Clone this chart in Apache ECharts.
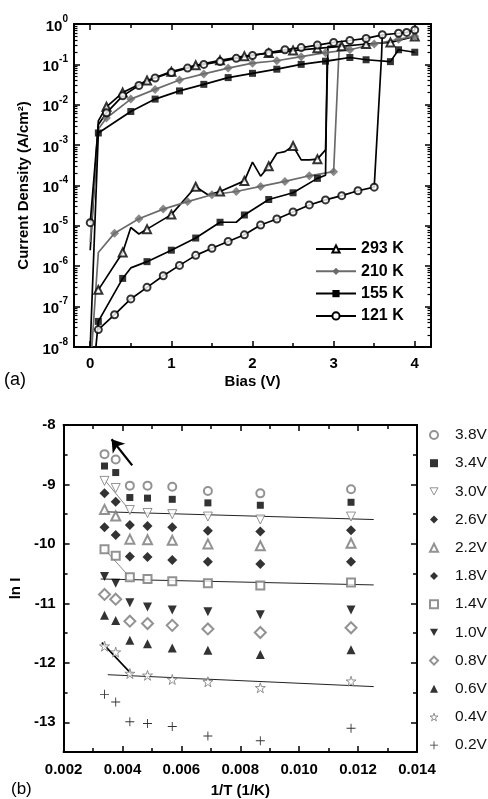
<!DOCTYPE html>
<html><head><meta charset="utf-8">
<script src="https://cdn.jsdelivr.net/npm/echarts@6/dist/echarts.min.js"></script>
<style>html,body{margin:0;padding:0;background:#fff}#c{width:488px;height:799px}</style>
</head><body><div id="c"></div>
<script>
// ---------- Panel (a): J-V curves, [bias V, current density A/cm^2] ----------
const tempNames = ['293 K', '210 K', '155 K', '121 K'];

const t293LowMarked = [[0.1,2.6e-7],[0.4,2.2e-6],[0.7,8.3e-6],[1.0,1.9e-5],[1.3,9.3e-5],[1.6,7.1e-5],[1.9,1.3e-4],[2.2,3.0e-4],[2.5,9.5e-4],[2.8,4.5e-4]];
const t293LowBetween = [[0.5,9.1e-6],[0.6,6.3e-6],[1.45,5.9e-5],[2.0,3.8e-4],[2.1,1.7e-4],[2.3,6.3e-4],[2.4,6.9e-4],[2.6,4.3e-4],[2.7,4.3e-4],[2.9,7.6e-4]];
const t293Jump = [2.93, 0.28];
const t293UpMarked = [[4.0,0.49],[3.7,0.35],[3.4,0.32],[3.1,0.28],[2.8,0.25],[2.5,0.22],[2.2,0.19],[1.9,0.16],[1.6,0.126],[1.3,0.095],[1.0,0.066],[0.7,0.040],[0.4,0.020],[0.2,0.0089]];
const t293UpBetween = [[0.1,0.004],[0.0,2.5e-6]];

const t210LowMarked = [[0.3,6.6e-6],[0.6,1.5e-5],[0.9,2.6e-5],[1.2,4.0e-5],[1.5,5.9e-5],[1.8,7.1e-5],[2.1,9.5e-5],[2.4,1.26e-4],[2.7,1.74e-4],[3.0,2.2e-4]];
const t210LowBetween = [[0.02,1.0e-8],[0.1,2.2e-6]];
const t210Jump = [3.07, 0.32];
const t210UpMarked = [[4.0,0.5],[3.8,0.42],[3.5,0.32],[3.2,0.23],[2.9,0.195],[2.6,0.155],[2.3,0.123],[2.0,0.107],[1.7,0.081],[1.4,0.058],[1.1,0.041],[0.8,0.024],[0.5,0.0138],[0.2,0.0047]];
const t210UpBetween = [[0.1,0.0025],[0.0,4.0e-6]];

const t155LowMarked = [[0.1,4.3e-8],[0.4,5.0e-7],[0.7,1.3e-6],[1.0,2.5e-6],[1.3,5.0e-6],[1.6,1.23e-5],[1.9,1.86e-5],[2.2,4.5e-5],[2.5,6.6e-5],[2.8,1.5e-4]];
const t155LowBetween = [[0.07,1.0e-8],[0.5,9.1e-7],[1.8,1.23e-5],[2.9,1.8e-4]];
const t155Jump = [2.92, 0.12];
const t155UpMarked = [[4.0,0.2],[3.8,0.23],[3.7,0.117],[3.4,0.13],[3.2,0.148],[2.9,0.12],[2.6,0.1],[2.3,0.076],[2.0,0.06],[1.7,0.047],[1.4,0.032],[1.1,0.022],[0.8,0.0138],[0.5,0.0068],[0.1,0.002]];
const t155UpBetween = [[0.0,1.0e-8]];

const t121LowMarked = [[0.1,2.7e-8],[0.3,6.3e-8],[0.5,1.55e-7],[0.7,3.0e-7],[0.9,5.8e-7],[1.1,1.05e-6],[1.3,1.86e-6],[1.5,2.8e-6],[1.7,4.1e-6],[1.9,6.0e-6],[2.1,1.05e-5],[2.3,1.48e-5],[2.5,2.2e-5],[2.7,3.3e-5],[2.9,4.4e-5],[3.1,5.6e-5],[3.3,7.4e-5],[3.5,9.1e-5]];
const t121LowBetween = [];
const t121Jump = [3.59, 0.155];
const t121UpMarked = [[4.0,0.71],[3.9,0.62],[3.8,0.59],[3.6,0.54],[3.4,0.44],[3.2,0.39],[3.0,0.35],[2.8,0.30],[2.6,0.26],[2.4,0.23],[2.2,0.195],[2.0,0.166],[1.8,0.141],[1.6,0.117],[1.4,0.1],[1.2,0.081],[1.0,0.063],[0.8,0.046],[0.6,0.030],[0.4,0.0166],[0.2,0.0063],[0.0,1.2e-5]];
const t121UpBetween = [[0.1,0.0032]];

const biasTicks = [0, 1, 2, 3, 4];
const biasMinorTicks = [0.5, 1.5, 2.5, 3.5];
const decadeTicks = [1e-8, 1e-7, 1e-6, 1e-5, 1e-4, 1e-3, 1e-2, 1e-1, 1];

// ---------- Panel (b): ln I vs 1/T ----------
const invT = [0.00339, 0.00377, 0.00425, 0.00485, 0.00569, 0.0069, 0.00868, 0.01176];
const voltNames = ['3.8V','3.4V','3.0V','2.6V','2.2V','1.8V','1.4V','1.0V','0.8V','0.6V','0.4V','0.2V'];
const lnI38 = [-8.49,-8.58,-9.02,-9.02,-9.04,-9.11,-9.15,-9.08];
const lnI34 = [-8.69,-8.80,-9.22,-9.23,-9.25,-9.31,-9.35,-9.30];
const lnI30 = [-8.94,-9.06,-9.43,-9.48,-9.50,-9.54,-9.59,-9.54];
const lnI26 = [-9.15,-9.29,-9.68,-9.70,-9.72,-9.78,-9.79,-9.77];
const lnI22 = [-9.42,-9.53,-9.92,-9.93,-9.94,-10.00,-10.03,-9.99];
const lnI18 = [-9.72,-9.85,-10.21,-10.22,-10.27,-10.30,-10.34,-10.30];
const lnI14 = [-10.09,-10.20,-10.56,-10.59,-10.63,-10.66,-10.70,-10.65];
const lnI10 = [-10.55,-10.66,-10.99,-11.06,-11.11,-11.14,-11.19,-11.11];
const lnI08 = [-10.85,-10.93,-11.30,-11.34,-11.37,-11.43,-11.49,-11.41];
const lnI06 = [-11.20,-11.29,-11.62,-11.68,-11.75,-11.79,-11.86,-11.78];
const lnI04 = [-11.72,-11.82,-12.18,-12.21,-12.28,-12.32,-12.42,-12.31];
const lnI02 = [-12.53,-12.66,-12.99,-13.02,-13.07,-13.23,-13.31,-13.10];

const fit30Steep = [[0.00339,-8.92],[0.00425,-9.44]];
const fit30Flat = [[0.00339,-9.46],[0.01253,-9.59]];
const fit14Steep = [[0.00339,-10.09],[0.00425,-10.56]];
const fit14Flat = [[0.00326,-10.59],[0.01253,-10.69]];
const fit04Steep = [[0.0033,-11.66],[0.00431,-12.19]];
const fit04Flat = [[0.0035,-12.20],[0.01253,-12.40]];
const arrowFrom = [0.00433, -8.68];
const arrowTo = [0.00363, -8.24];

const lnTicks = [-13, -12, -11, -10, -9, -8];
const lnMinorTicks = [-13.5, -12.5, -11.5, -10.5, -9.5, -8.5];

// ---------- build ----------
const FONT = 'Liberation Sans, Arial, Helvetica, sans-serif';
const minorDecadeTicks = [];
for (let e = -8; e < 0; e++) for (let m = 2; m <= 9; m++) minorDecadeTicks.push(m * Math.pow(10, e));

const chart = echarts.init(document.getElementById('c'), null, {renderer: 'canvas'});

const tickLbl = {fontFamily: FONT, fontSize: 15, fontWeight: 'bold', color: '#000'};
const nameStyle = {fontFamily: FONT, fontSize: 15, fontWeight: 'bold', color: '#000'};

function axisBase(extra) {
  return Object.assign({
    type: 'value', splitLine: {show: false}, axisPointer: {show: false},
    axisLine: {show: false, onZero: false, lineStyle: {color: '#000', width: 2}},
    axisTick: {show: true, inside: true, length: 6, lineStyle: {color: '#000', width: 1.5}},
    axisLabel: {show: false}
  }, extra);
}
function withLine(a, w) { a.axisLine = {show: true, onZero: false, lineStyle: {color: '#000', width: w}}; return a; }

const xAxes = [
  withLine(axisBase({gridIndex: 0, position: 'bottom', min: -0.2, max: 4.2,
    axisTick: {show: true, inside: true, length: 6, customValues: biasTicks, lineStyle: {color: '#000', width: 1.5}},
    axisLabel: Object.assign({show: true, customValues: biasTicks, margin: 9}, tickLbl),
    name: 'Bias (V)', nameLocation: 'middle', nameGap: 27, nameTextStyle: nameStyle}), 2),
  axisBase({gridIndex: 0, position: 'bottom', min: -0.2, max: 4.2,
    axisTick: {show: true, inside: true, length: 4, customValues: biasMinorTicks, lineStyle: {color: '#000', width: 1.5}}}),
  withLine(axisBase({gridIndex: 0, position: 'top', min: -0.2, max: 4.2,
    axisTick: {show: true, inside: true, length: 6, customValues: biasTicks, lineStyle: {color: '#000', width: 1.5}}}), 2),
  axisBase({gridIndex: 0, position: 'top', min: -0.2, max: 4.2,
    axisTick: {show: true, inside: true, length: 4, customValues: biasMinorTicks, lineStyle: {color: '#000', width: 1.5}}}),
  withLine(axisBase({gridIndex: 1, position: 'bottom', min: 0.002, max: 0.014, interval: 0.002,
    axisTick: {show: true, inside: true, length: 6, lineStyle: {color: '#000', width: 1.5}},
    minorTick: {show: true, splitNumber: 2, length: 4, lineStyle: {color: '#000', width: 1.5}},
    axisLabel: Object.assign({show: true, margin: 10, formatter: v => v.toFixed(3)}, tickLbl),
    name: '1/T (1/K)', nameLocation: 'middle', nameGap: 31, nameTextStyle: nameStyle}), 2),
  withLine(axisBase({gridIndex: 1, position: 'top', min: 0.002, max: 0.014, interval: 0.002,
    minorTick: {show: true, splitNumber: 2, length: 4, lineStyle: {color: '#000', width: 1.5}}}), 2)
];

const yAxes = [
  withLine(axisBase({gridIndex: 0, type: 'log', logBase: 10, position: 'left', min: 1e-8, max: 1,
    axisTick: {show: true, inside: true, length: 6, customValues: decadeTicks, lineStyle: {color: '#000', width: 1.5}},
    axisLabel: {show: true, customValues: decadeTicks, margin: 6,
      formatter: v => '{b|10}{s|' + Math.round(Math.log10(v)) + '}',
      rich: {b: {fontFamily: FONT, fontSize: 15, fontWeight: 'bold', color: '#000', verticalAlign: 'bottom', lineHeight: 20},
             s: {fontFamily: FONT, fontSize: 10, fontWeight: 'bold', color: '#000', verticalAlign: 'top', lineHeight: 20}}},
    name: 'Current Density (A/cm²)', nameLocation: 'middle', nameGap: 43, nameRotate: 90, nameTextStyle: nameStyle}), 2),
  axisBase({gridIndex: 0, type: 'log', logBase: 10, position: 'left', min: 1e-8, max: 1,
    axisTick: {show: true, inside: true, length: 3.5, customValues: minorDecadeTicks, lineStyle: {color: '#000', width: 1.2}}}),
  withLine(axisBase({gridIndex: 0, type: 'log', logBase: 10, position: 'right', min: 1e-8, max: 1,
    axisTick: {show: true, inside: true, length: 6, customValues: decadeTicks, lineStyle: {color: '#000', width: 1.5}}}), 2),
  axisBase({gridIndex: 0, type: 'log', logBase: 10, position: 'right', min: 1e-8, max: 1,
    axisTick: {show: true, inside: true, length: 3.5, customValues: minorDecadeTicks, lineStyle: {color: '#000', width: 1.2}}}),
  withLine(axisBase({gridIndex: 1, position: 'left', min: -13.5, max: -8,
    axisTick: {show: true, inside: true, length: 6, customValues: lnTicks, lineStyle: {color: '#000', width: 1.5}},
    axisLabel: Object.assign({show: true, customValues: lnTicks, margin: 8}, tickLbl),
    name: 'ln I', nameLocation: 'middle', nameGap: 25, nameRotate: 90, nameTextStyle: nameStyle}), 2),
  axisBase({gridIndex: 1, position: 'left', min: -13.5, max: -8,
    axisTick: {show: true, inside: true, length: 4, customValues: lnMinorTicks, lineStyle: {color: '#000', width: 1.5}}}),
  withLine(axisBase({gridIndex: 1, position: 'right', min: -13.5, max: -8,
    axisTick: {show: true, inside: true, length: 6, customValues: lnTicks, lineStyle: {color: '#000', width: 1.5}}}), 2),
  axisBase({gridIndex: 1, position: 'right', min: -13.5, max: -8,
    axisTick: {show: true, inside: true, length: 4, customValues: lnMinorTicks, lineStyle: {color: '#000', width: 1.5}}})
];

function buildPath(lowM, lowB, jump, upM, upB) {
  const low = lowM.concat(lowB).sort((a, b) => a[0] - b[0]);
  const up = upM.concat(upB).sort((a, b) => b[0] - a[0]);
  const fwd = up.filter(p => p[0] > jump[0]).reverse();
  return low.concat([jump], fwd, up);
}

const panelA = [
  {name: '293 K', path: buildPath(t293LowMarked, t293LowBetween, t293Jump, t293UpMarked, t293UpBetween), marks: t293LowMarked.concat(t293UpMarked),
   symbol: 'emptyTriangle', size: 8, color: '#000'},
  {name: '210 K', path: buildPath(t210LowMarked, t210LowBetween, t210Jump, t210UpMarked, t210UpBetween), marks: t210LowMarked.concat(t210UpMarked),
   symbol: 'diamond', size: 9, color: '#6b6b6b'},
  {name: '155 K', path: buildPath(t155LowMarked, t155LowBetween, t155Jump, t155UpMarked, t155UpBetween), marks: t155LowMarked.concat(t155UpMarked),
   symbol: 'rect', size: 7, color: '#000'},
  {name: '121 K', path: buildPath(t121LowMarked, t121LowBetween, t121Jump, t121UpMarked, t121UpBetween), marks: t121LowMarked.concat(t121UpMarked),
   symbol: 'emptyCircle', size: 7, color: '#000'}
];

const series = [];
panelA.forEach((s, i) => {
  series.push({type: 'line', name: s.name, xAxisIndex: 0, yAxisIndex: 0, data: s.path,
    showSymbol: false, symbol: s.symbol, symbolSize: s.size, z: 2 + i,
    lineStyle: {color: s.color, width: 1.7}, itemStyle: {color: s.color}, emphasis: {disabled: true}});
});
panelA.forEach((s, i) => {
  series.push({type: 'scatter', name: s.name, xAxisIndex: 0, yAxisIndex: 0, data: s.marks,
    symbol: s.symbol, symbolSize: s.size, z: 10 + i,
    itemStyle: {color: s.color, borderWidth: 1}, emphasis: {disabled: true}});
});

const starPath = 'path://M50,2 L61,37 L98,37 L68,59 L79,95 L50,73 L21,95 L32,59 L2,37 L39,37 Z';
const plusPath = 'path://M45,0 H55 V45 H100 V55 H55 V100 H45 V55 H0 V45 H45 Z';
const downTriPath = 'path://M0,0 L100,0 L50,90 Z';
const GRAY = '#777';
const panelB = [
  {data: lnI38, symbol: 'emptyCircle', size: 8, color: GRAY},
  {data: lnI34, symbol: 'rect', size: 7, color: '#000'},
  {data: lnI30, symbol: downTriPath, size: 9, color: GRAY, hollow: true},
  {data: lnI26, symbol: 'diamond', size: 10, color: '#000'},
  {data: lnI22, symbol: 'emptyTriangle', size: 9, color: GRAY},
  {data: lnI18, symbol: 'diamond', size: 10, color: '#000'},
  {data: lnI14, symbol: 'emptyRect', size: 8, color: GRAY},
  {data: lnI10, symbol: downTriPath, size: 9, color: '#000'},
  {data: lnI08, symbol: 'emptyDiamond', size: 11, color: GRAY},
  {data: lnI06, symbol: 'triangle', size: 9, color: '#000'},
  {data: lnI04, symbol: starPath, size: 10, color: GRAY, hollow: true},
  {data: lnI02, symbol: plusPath, size: 9, color: '#000'}
];
function styleB(s) {
  return s.hollow ? {color: '#fff', borderColor: s.color, borderWidth: 1} : {color: s.color, borderWidth: 1};
}
panelB.forEach((s, i) => {
  series.push({type: 'scatter', name: voltNames[i], xAxisIndex: 4, yAxisIndex: 4,
    data: invT.map((x, k) => [x, s.data[k]]),
    symbol: s.symbol, symbolSize: s.size, z: 10,
    itemStyle: styleB(s), emphasis: {disabled: true}});
});

const fits = [
  {d: fit30Steep, c: '#888', w: 1}, {d: fit30Flat, c: '#222', w: 1},
  {d: fit14Steep, c: '#888', w: 1}, {d: fit14Flat, c: '#222', w: 1},
  {d: fit04Steep, c: '#000', w: 1.6}, {d: fit04Flat, c: '#222', w: 1}
];
fits.forEach((f, i) => {
  const s = {type: 'line', xAxisIndex: 4, yAxisIndex: 4, data: f.d, showSymbol: false, symbol: 'none',
    lineStyle: {color: f.c, width: f.w}, z: 5, silent: true, emphasis: {disabled: true}};
  if (i === 0) {
    s.markLine = {silent: true, symbol: ['none', 'arrow'], symbolSize: 12, animation: false,
      lineStyle: {color: '#000', width: 2.2, type: 'solid'}, label: {show: false},
      data: [[{coord: arrowFrom}, {coord: arrowTo}]]};
  }
  series.push(s);
});

const voltLegendData = voltNames.map((n, i) => {
  const s = panelB[i];
  const item = {name: n};
  if (s.hollow) item.itemStyle = styleB(s);
  return item;
});

chart.setOption({
  animation: false,
  backgroundColor: '#fff',
  grid: [
    {left: 74, top: 24, width: 357, height: 323},
    {left: 62, top: 425, width: 355, height: 328}
  ],
  xAxis: xAxes,
  yAxis: yAxes,
  legend: [
    {data: tempNames, orient: 'vertical', left: 310, top: 236, itemWidth: 40, itemHeight: 9, itemGap: 6.3,
     textStyle: {fontFamily: FONT, fontSize: 16, fontWeight: 'bold', color: '#000'}, selectedMode: false},
    {data: voltLegendData, orient: 'vertical', left: 424, top: 422, itemWidth: 8, itemHeight: 8, itemGap: 12.2,
     textStyle: {fontFamily: FONT, fontSize: 15.5, color: '#111', padding: [0, 0, 0, 12]}, selectedMode: false}
  ],
  graphic: [
    {type: 'text', left: 4, top: 371, style: {text: '(a)', font: '18px ' + FONT, fill: '#000'}},
    {type: 'text', left: 11, top: 781, style: {text: '(b)', font: '17px ' + FONT, fill: '#000'}}
  ],
  series: series
});
</script></body></html>
